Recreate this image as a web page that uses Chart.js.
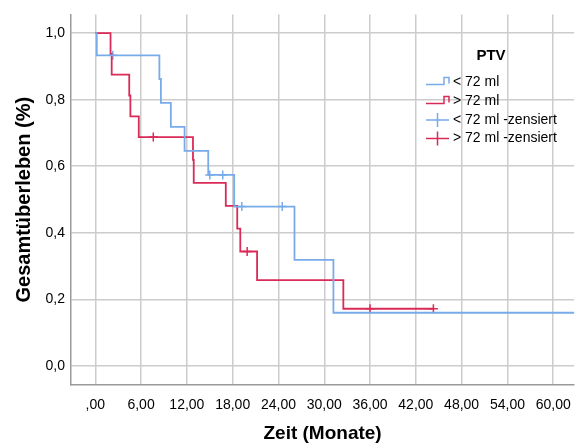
<!DOCTYPE html>
<html>
<head>
<meta charset="utf-8">
<script src="https://cdn.jsdelivr.net/npm/chart.js"></script>
<style>
  body { margin: 0; background: #fff; }
  canvas { display: block; }
</style>
</head>
<body>
<canvas id="kmChart" width="583" height="444"></canvas>
<script>
// Kaplan-Meier Schätzung, Gruppen nach PTV
var groupLabels = ['< 72 ml', '> 72 ml'];
var legendTitle = 'PTV';

// < 72 ml : Ereigniszeitpunkte (Monate) und Überlebensrate danach
var blueTimes = [0, 0.2, 8.4, 8.6, 9.9, 11.7, 14.8, 18.2, 26.1, 31.2, 64];
var blueSurv  = [1.0, 0.933, 0.862, 0.790, 0.718, 0.646, 0.574, 0.479, 0.319, 0.160, 0.160];
var blueCensTimes = [2.3, 15.0, 16.7, 19.2, 24.5];
var blueCensSurv  = [0.933, 0.574, 0.574, 0.479, 0.479];

// > 72 ml
var redTimes = [0, 2.0, 2.15, 4.45, 4.6, 5.7, 12.8, 12.9, 17.1, 18.6, 19.0, 21.2, 32.5, 44.3];
var redSurv  = [1.0, 0.9375, 0.875, 0.8125, 0.75, 0.6875, 0.619, 0.550, 0.481, 0.4125, 0.344, 0.258, 0.172, 0.172];
var redCensTimes = [7.6, 19.9, 36.0, 44.3];
var redCensSurv  = [0.6875, 0.344, 0.172, 0.172];

// Achsen (Schrittweite der Ticks)
var xTickStep = 6;
var yTickStep = 0.2;

var blueColor = '#78abea';
var redColor = '#da2a58';
var fontFamily = '"Liberation Sans", Arial, sans-serif';

function toPoints(xs, ys) {
    return xs.map(function (x, i) { return { x: x, y: ys[i] }; });
}

// Legende wie im SPSS-Ausdruck
var kmLegend = {
    id: 'kmLegend',
    afterDatasetsDraw: function (chart) {
        var ctx = chart.ctx;
        var ds = chart.data.datasets;
        ctx.save();
        ctx.fillStyle = '#000';
        ctx.textBaseline = 'middle';
        ctx.font = 'bold 15px ' + fontFamily;
        ctx.textAlign = 'center';
        ctx.fillText(legendTitle, 491, 56);

        ctx.font = '14px ' + fontFamily;
        ctx.textAlign = 'left';
        var rows = [82, 101, 120, 138.5];
        ctx.lineWidth = 1.5;
        for (var i = 0; i < 4; i++) {
            var y = rows[i];
            ctx.strokeStyle = ds[i].borderColor;
            ctx.beginPath();
            if (i < 2) {
                ctx.moveTo(426, y + 2.5);
                ctx.lineTo(444, y + 2.5);
                ctx.lineTo(444, y - 4.5);
                ctx.lineTo(449, y - 4.5);
                ctx.lineTo(449, y + 1.5);
            } else {
                ctx.moveTo(426, y);
                ctx.lineTo(449, y);
                ctx.moveTo(437.5, y - 7);
                ctx.lineTo(437.5, y + 7);
            }
            ctx.stroke();
            ctx.fillText(ds[i].label, 453, y);
        }
        ctx.restore();
    }
};

var chartArea = document.getElementById('kmChart').getContext('2d');
var kmChart = new Chart(chartArea, {
    type: 'line',
    data: {
        datasets: [{
            label: groupLabels[0],
            data: toPoints(blueTimes, blueSurv),
            borderColor: blueColor,
            borderWidth: 1.8,
            stepped: 'before',
            pointRadius: 0,
            fill: false
        }, {
            label: groupLabels[1],
            data: toPoints(redTimes, redSurv),
            borderColor: redColor,
            borderWidth: 1.8,
            stepped: 'before',
            pointRadius: 0,
            fill: false
        }, {
            label: groupLabels[0] + ' -zensiert',
            data: toPoints(blueCensTimes, blueCensSurv),
            borderColor: blueColor,
            showLine: false,
            pointStyle: 'cross',
            pointRadius: 4.5,
            pointBorderWidth: 1.5
        }, {
            label: groupLabels[1] + ' -zensiert',
            data: toPoints(redCensTimes, redCensSurv),
            borderColor: redColor,
            showLine: false,
            pointStyle: 'cross',
            pointRadius: 4.5,
            pointBorderWidth: 1.5
        }]
    },
    options: {
        responsive: false,
        animation: false,
        layout: { padding: { top: 13, right: 0, left: 0, bottom: 0 } },
        plugins: {
            legend: { display: false },
            tooltip: { enabled: false }
        },
        scales: {
            x: {
                type: 'linear',
                min: -3.18,
                max: 62.74,
                afterFit: function (scale) { scale.height = 59; },
                grid: { display: true, drawOnChartArea: true, color: '#cccccc', lineWidth: 1.5, drawTicks: false },
                border: { color: '#9a9a9a', width: 1.5 },
                ticks: {
                    stepSize: xTickStep,
                    includeBounds: false,
                    padding: 12,
                    maxRotation: 0,
                    autoSkip: false,
                    color: '#000',
                    font: { family: fontFamily, size: 14 },
                    callback: function (v) {
                        return v === 0 ? ',00' : v.toFixed(2).replace('.', ',');
                    }
                },
                title: {
                    display: true,
                    text: 'Zeit (Monate)',
                    color: '#000',
                    padding: { top: 0, bottom: 1 },
                    font: { family: fontFamily, size: 19, weight: 'bold', lineHeight: 1 }
                }
            },
            y: {
                type: 'linear',
                min: -0.057,
                max: 1.056,
                afterFit: function (scale) { scale.width = 71; },
                grid: { display: true, drawOnChartArea: true, color: '#cccccc', lineWidth: 1.5, drawTicks: false },
                border: { color: '#9a9a9a', width: 1.5 },
                ticks: {
                    stepSize: yTickStep,
                    includeBounds: false,
                    padding: 6,
                    autoSkip: false,
                    color: '#000',
                    font: { family: fontFamily, size: 14 },
                    callback: function (v) { return v.toFixed(1).replace('.', ','); }
                },
                title: {
                    display: true,
                    text: 'Gesamtüberleben (%)',
                    color: '#000',
                    padding: { top: 14, bottom: 0 },
                    font: { family: fontFamily, size: 20, weight: 'bold', lineHeight: 1 }
                }
            }
        }
    },
    plugins: [kmLegend]
});
</script>
</body>
</html>
